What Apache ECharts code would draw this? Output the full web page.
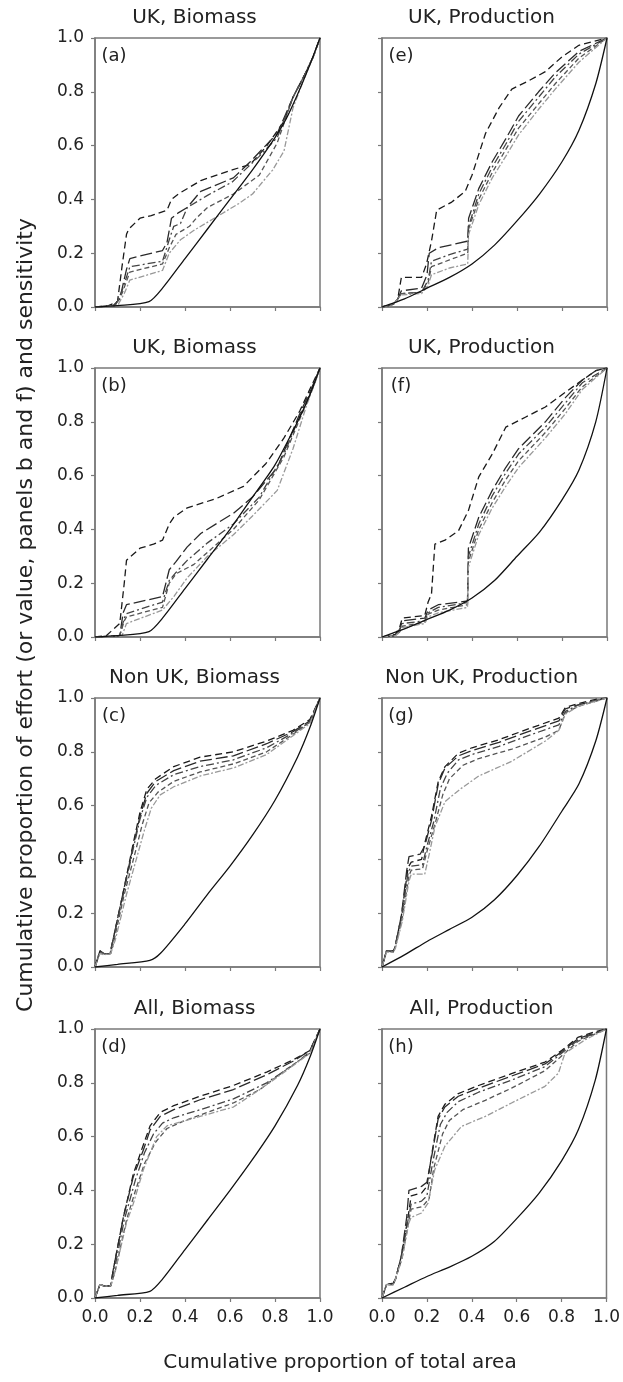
<!DOCTYPE html>
<html>
<head>
<meta charset="utf-8">
<script src="https://cdn.jsdelivr.net/npm/echarts@6/dist/echarts.min.js"></script>
<style>
  html, body { margin: 0; padding: 0; background: #fff; }
  #chart { width: 623px; height: 1382px; }
</style>
</head>
<body>
<div id="chart"></div>
<script>
// panel titles / letters
var panelTitles = ['UK, Biomass', 'UK, Production', 'UK, Biomass', 'UK, Production',
    'Non UK, Biomass', 'Non UK, Production', 'All, Biomass', 'All, Production'];
var panelLetters = ['(a)', '(e)', '(b)', '(f)', '(c)', '(g)', '(d)', '(h)'];
var tickLabels = ['0.0', '0.2', '0.4', '0.6', '0.8', '1.0'];

// (a) UK biomass
var aSolid = [[0,0],[0.1,0.005],[0.24,0.02],[0.3,0.07],[0.4,0.18],[0.5,0.29],[0.6,0.40],[0.7,0.51],[0.8,0.63],[0.85,0.70],[0.9,0.79],[0.95,0.89],[1,1]];
var aDashed = [
    [[0,0],[0.06,0.005],[0.1,0.02],[0.12,0.15],[0.14,0.27],[0.15,0.29],[0.2,0.33],[0.25,0.34],[0.32,0.36],[0.34,0.40],[0.37,0.42],[0.47,0.47],[0.61,0.51],[0.69,0.53],[0.76,0.595],[0.84,0.69],[0.88,0.78],[0.93,0.86],[0.97,0.93],[1,1]],
    [[0,0],[0.08,0.005],[0.11,0.03],[0.14,0.14],[0.155,0.18],[0.3,0.21],[0.32,0.24],[0.34,0.33],[0.37,0.35],[0.41,0.37],[0.47,0.43],[0.615,0.48],[0.69,0.54],[0.81,0.645],[0.88,0.78],[0.93,0.86],[0.97,0.93],[1,1]],
    [[0,0],[0.09,0.005],[0.12,0.06],[0.155,0.15],[0.30,0.17],[0.33,0.25],[0.35,0.30],[0.38,0.31],[0.41,0.37],[0.50,0.415],[0.61,0.465],[0.73,0.56],[0.81,0.63],[0.88,0.78],[0.93,0.86],[0.97,0.93],[1,1]],
    [[0,0],[0.09,0.005],[0.12,0.05],[0.155,0.13],[0.30,0.16],[0.33,0.22],[0.36,0.27],[0.42,0.30],[0.45,0.33],[0.5,0.37],[0.615,0.42],[0.73,0.49],[0.81,0.61],[0.88,0.78],[0.93,0.86],[0.97,0.93],[1,1]],
    [[0,0],[0.1,0.005],[0.13,0.05],[0.155,0.10],[0.30,0.136],[0.33,0.2],[0.38,0.25],[0.44,0.285],[0.54,0.335],[0.64,0.385],[0.70,0.42],[0.79,0.51],[0.84,0.58],[0.88,0.74],[0.93,0.85],[0.97,0.93],[1,1]]
];

// (b) UK biomass, value
var bSolid = [[0,0],[0.1,0.005],[0.24,0.02],[0.3,0.07],[0.4,0.18],[0.5,0.29],[0.6,0.40],[0.7,0.52],[0.8,0.64],[0.9,0.80],[0.95,0.89],[1,1]];
var bDashed = [
    [[0,0],[0.05,0.005],[0.07,0.02],[0.11,0.05],[0.13,0.2],[0.14,0.285],[0.2,0.33],[0.26,0.345],[0.30,0.36],[0.33,0.42],[0.35,0.445],[0.41,0.48],[0.54,0.515],[0.66,0.56],[0.76,0.645],[0.84,0.74],[0.91,0.84],[0.96,0.93],[1,1]],
    [[0,0],[0.11,0.005],[0.125,0.09],[0.14,0.12],[0.30,0.15],[0.33,0.25],[0.36,0.28],[0.41,0.335],[0.47,0.385],[0.615,0.46],[0.70,0.52],[0.81,0.63],[0.91,0.83],[0.96,0.92],[1,1]],
    [[0,0],[0.11,0.005],[0.13,0.07],[0.14,0.087],[0.30,0.13],[0.33,0.21],[0.36,0.24],[0.41,0.285],[0.50,0.35],[0.615,0.42],[0.73,0.52],[0.84,0.68],[0.92,0.84],[0.97,0.93],[1,1]],
    [[0,0],[0.11,0.005],[0.13,0.06],[0.14,0.075],[0.30,0.11],[0.33,0.2],[0.36,0.235],[0.44,0.27],[0.5,0.315],[0.615,0.40],[0.73,0.51],[0.84,0.67],[0.92,0.83],[0.97,0.93],[1,1]],
    [[0,0],[0.12,0.005],[0.14,0.05],[0.30,0.10],[0.35,0.15],[0.41,0.22],[0.5,0.30],[0.615,0.38],[0.70,0.45],[0.81,0.545],[0.88,0.70],[0.94,0.86],[0.98,0.95],[1,1]]
];

// (c) non UK biomass
var cSolid = [[0,0],[0.1,0.01],[0.244,0.025],[0.29,0.05],[0.4,0.16],[0.5,0.27],[0.6,0.375],[0.7,0.49],[0.8,0.62],[0.9,0.78],[0.955,0.89],[1,1]];
var cDashed = [
    [[0,0],[0.022,0.06],[0.04,0.05],[0.067,0.05],[0.08,0.1],[0.126,0.28],[0.17,0.46],[0.2,0.575],[0.23,0.66],[0.27,0.70],[0.35,0.745],[0.467,0.78],[0.615,0.80],[0.763,0.84],[0.88,0.88],[0.955,0.92],[1,1]],
    [[0,0],[0.022,0.06],[0.04,0.05],[0.067,0.05],[0.08,0.1],[0.126,0.28],[0.17,0.45],[0.2,0.56],[0.23,0.645],[0.27,0.69],[0.35,0.73],[0.467,0.765],[0.615,0.785],[0.763,0.83],[0.88,0.875],[0.955,0.915],[1,1]],
    [[0,0],[0.022,0.055],[0.04,0.05],[0.067,0.05],[0.08,0.1],[0.126,0.27],[0.17,0.44],[0.2,0.55],[0.23,0.63],[0.27,0.675],[0.35,0.715],[0.467,0.745],[0.615,0.77],[0.763,0.815],[0.88,0.87],[0.955,0.91],[1,1]],
    [[0,0],[0.022,0.055],[0.04,0.05],[0.07,0.05],[0.085,0.1],[0.13,0.27],[0.18,0.43],[0.21,0.53],[0.24,0.61],[0.28,0.65],[0.35,0.69],[0.467,0.725],[0.615,0.755],[0.763,0.80],[0.88,0.865],[0.955,0.91],[1,1]],
    [[0,0],[0.022,0.05],[0.04,0.045],[0.07,0.05],[0.09,0.1],[0.14,0.27],[0.19,0.42],[0.22,0.51],[0.25,0.59],[0.29,0.64],[0.35,0.67],[0.467,0.71],[0.615,0.74],[0.763,0.79],[0.88,0.86],[0.955,0.905],[1,1]]
];

// (d) all biomass
var dSolid = [[0,0],[0.1,0.01],[0.244,0.025],[0.3,0.07],[0.4,0.18],[0.5,0.29],[0.6,0.40],[0.7,0.515],[0.8,0.64],[0.9,0.79],[0.955,0.895],[1,1]];
var dDashed = [
    [[0,0],[0.022,0.05],[0.04,0.045],[0.07,0.045],[0.08,0.1],[0.126,0.30],[0.17,0.46],[0.215,0.57],[0.245,0.64],[0.29,0.69],[0.35,0.715],[0.467,0.75],[0.615,0.79],[0.763,0.84],[0.88,0.885],[0.955,0.92],[1,1]],
    [[0,0],[0.022,0.05],[0.04,0.045],[0.07,0.045],[0.08,0.1],[0.126,0.30],[0.17,0.45],[0.215,0.55],[0.245,0.625],[0.29,0.675],[0.35,0.70],[0.467,0.737],[0.615,0.775],[0.763,0.83],[0.88,0.88],[0.955,0.92],[1,1]],
    [[0,0],[0.022,0.05],[0.04,0.045],[0.07,0.045],[0.085,0.1],[0.13,0.29],[0.18,0.44],[0.22,0.54],[0.26,0.61],[0.3,0.65],[0.35,0.67],[0.467,0.70],[0.615,0.74],[0.763,0.80],[0.88,0.865],[0.955,0.915],[1,1]],
    [[0,0],[0.022,0.05],[0.04,0.045],[0.07,0.045],[0.09,0.1],[0.14,0.29],[0.18,0.40],[0.22,0.50],[0.27,0.58],[0.32,0.63],[0.4,0.66],[0.5,0.69],[0.615,0.725],[0.733,0.775],[0.85,0.85],[0.955,0.91],[1,1]],
    [[0,0],[0.022,0.05],[0.04,0.045],[0.07,0.045],[0.09,0.1],[0.14,0.28],[0.17,0.35],[0.215,0.477],[0.274,0.60],[0.32,0.64],[0.467,0.675],[0.615,0.71],[0.733,0.775],[0.85,0.845],[0.955,0.91],[1,1]]
];

// (e) UK production
var eSolid = [[0,0],[0.1,0.03],[0.2,0.07],[0.3,0.11],[0.4,0.16],[0.5,0.23],[0.6,0.32],[0.7,0.42],[0.8,0.54],[0.875,0.656],[0.95,0.83],[1,1]];
var eDashed = [
    [[0,0],[0.05,0.01],[0.07,0.03],[0.086,0.11],[0.176,0.11],[0.198,0.16],[0.22,0.245],[0.243,0.36],[0.31,0.39],[0.37,0.43],[0.4,0.49],[0.46,0.645],[0.52,0.74],[0.577,0.81],[0.65,0.84],[0.726,0.875],[0.8,0.93],[0.875,0.973],[1,1]],
    [[0,0],[0.05,0.01],[0.07,0.03],[0.086,0.06],[0.176,0.07],[0.2,0.12],[0.21,0.2],[0.25,0.22],[0.381,0.245],[0.385,0.33],[0.43,0.44],[0.49,0.54],[0.55,0.625],[0.607,0.71],[0.696,0.80],[0.77,0.87],[0.875,0.95],[1,1]],
    [[0,0],[0.05,0.01],[0.07,0.03],[0.086,0.05],[0.176,0.055],[0.205,0.1],[0.22,0.17],[0.3,0.195],[0.381,0.215],[0.385,0.30],[0.43,0.42],[0.49,0.52],[0.55,0.605],[0.607,0.69],[0.696,0.78],[0.77,0.855],[0.875,0.94],[1,1]],
    [[0,0],[0.05,0.01],[0.07,0.03],[0.086,0.05],[0.176,0.055],[0.205,0.09],[0.22,0.15],[0.3,0.175],[0.381,0.2],[0.385,0.29],[0.43,0.40],[0.49,0.50],[0.55,0.585],[0.607,0.665],[0.696,0.755],[0.77,0.83],[0.875,0.925],[1,1]],
    [[0,0],[0.05,0.01],[0.07,0.03],[0.086,0.045],[0.176,0.05],[0.205,0.08],[0.22,0.12],[0.3,0.145],[0.381,0.16],[0.385,0.27],[0.43,0.38],[0.49,0.48],[0.55,0.56],[0.607,0.64],[0.696,0.735],[0.77,0.81],[0.875,0.91],[1,1]]
];

// (f) UK production, value
var fSolid = [[0,0],[0.1,0.03],[0.2,0.065],[0.3,0.10],[0.4,0.145],[0.5,0.21],[0.6,0.30],[0.7,0.39],[0.8,0.51],[0.875,0.62],[0.95,0.80],[1,1]];
var fDashed = [
    [[0,0],[0.06,0.01],[0.08,0.04],[0.09,0.07],[0.19,0.08],[0.205,0.13],[0.22,0.16],[0.235,0.345],[0.28,0.36],[0.34,0.395],[0.384,0.47],[0.43,0.595],[0.49,0.68],[0.55,0.78],[0.637,0.817],[0.726,0.855],[0.815,0.91],[0.89,0.955],[0.95,0.99],[1,1]],
    [[0,0],[0.06,0.005],[0.08,0.03],[0.09,0.06],[0.19,0.07],[0.205,0.1],[0.25,0.12],[0.38,0.134],[0.384,0.33],[0.43,0.445],[0.49,0.545],[0.55,0.63],[0.607,0.70],[0.726,0.80],[0.815,0.89],[0.89,0.955],[0.95,0.99],[1,1]],
    [[0,0],[0.06,0.005],[0.08,0.03],[0.09,0.05],[0.19,0.06],[0.205,0.09],[0.25,0.11],[0.38,0.128],[0.384,0.3],[0.43,0.42],[0.49,0.525],[0.55,0.61],[0.607,0.68],[0.726,0.78],[0.815,0.87],[0.89,0.945],[1,1]],
    [[0,0],[0.06,0.005],[0.08,0.02],[0.09,0.04],[0.19,0.055],[0.205,0.085],[0.25,0.1],[0.38,0.12],[0.384,0.28],[0.43,0.40],[0.49,0.50],[0.55,0.585],[0.607,0.655],[0.726,0.76],[0.815,0.85],[0.89,0.93],[1,1]],
    [[0,0],[0.06,0.005],[0.08,0.02],[0.09,0.035],[0.19,0.05],[0.205,0.075],[0.25,0.09],[0.38,0.11],[0.384,0.26],[0.43,0.38],[0.49,0.48],[0.55,0.56],[0.607,0.63],[0.726,0.74],[0.815,0.83],[0.89,0.92],[1,1]]
];

// (g) non UK production
var gSolid = [[0,0],[0.1,0.045],[0.2,0.095],[0.3,0.14],[0.4,0.185],[0.5,0.25],[0.6,0.34],[0.7,0.45],[0.8,0.58],[0.875,0.68],[0.95,0.84],[1,1]];
var gDashed = [
    [[0,0],[0.02,0.06],[0.05,0.06],[0.057,0.07],[0.086,0.19],[0.116,0.37],[0.13,0.39],[0.176,0.40],[0.19,0.46],[0.22,0.56],[0.25,0.69],[0.28,0.745],[0.34,0.795],[0.4,0.815],[0.52,0.845],[0.65,0.885],[0.786,0.925],[0.815,0.965],[0.875,0.98],[0.95,0.995],[1,1]],
    [[0,0],[0.02,0.06],[0.05,0.06],[0.057,0.07],[0.086,0.19],[0.11,0.36],[0.12,0.41],[0.17,0.42],[0.19,0.45],[0.22,0.545],[0.25,0.68],[0.28,0.74],[0.34,0.785],[0.4,0.805],[0.52,0.835],[0.65,0.875],[0.786,0.915],[0.815,0.96],[0.875,0.975],[1,1]],
    [[0,0],[0.02,0.06],[0.05,0.055],[0.057,0.07],[0.086,0.18],[0.116,0.35],[0.13,0.375],[0.18,0.38],[0.2,0.45],[0.23,0.54],[0.26,0.665],[0.29,0.72],[0.34,0.77],[0.4,0.79],[0.52,0.82],[0.65,0.86],[0.786,0.9],[0.815,0.95],[0.875,0.975],[1,1]],
    [[0,0],[0.02,0.06],[0.05,0.055],[0.057,0.07],[0.09,0.18],[0.12,0.34],[0.13,0.36],[0.18,0.365],[0.2,0.43],[0.235,0.53],[0.27,0.64],[0.3,0.70],[0.36,0.75],[0.43,0.775],[0.577,0.81],[0.726,0.855],[0.786,0.88],[0.815,0.945],[0.875,0.97],[1,1]],
    [[0,0],[0.02,0.055],[0.05,0.055],[0.06,0.07],[0.09,0.17],[0.12,0.32],[0.13,0.345],[0.19,0.345],[0.21,0.42],[0.235,0.52],[0.28,0.615],[0.354,0.665],[0.43,0.71],[0.577,0.765],[0.726,0.84],[0.786,0.88],[0.815,0.94],[0.875,0.97],[1,1]]
];

// (h) all production
var hSolid = [[0,0],[0.1,0.04],[0.2,0.08],[0.3,0.115],[0.4,0.155],[0.5,0.21],[0.6,0.295],[0.7,0.39],[0.8,0.51],[0.875,0.626],[0.95,0.81],[1,1]];
var hDashed = [
    [[0,0],[0.02,0.05],[0.05,0.055],[0.06,0.07],[0.086,0.155],[0.116,0.30],[0.13,0.38],[0.176,0.39],[0.2,0.415],[0.22,0.527],[0.25,0.675],[0.28,0.72],[0.34,0.76],[0.43,0.79],[0.577,0.834],[0.726,0.877],[0.8,0.92],[0.875,0.97],[0.95,0.99],[1,1]],
    [[0,0],[0.02,0.05],[0.05,0.055],[0.06,0.07],[0.086,0.155],[0.11,0.30],[0.12,0.40],[0.176,0.415],[0.2,0.43],[0.22,0.52],[0.25,0.665],[0.28,0.71],[0.34,0.75],[0.43,0.78],[0.577,0.825],[0.726,0.87],[0.8,0.915],[0.875,0.965],[1,1]],
    [[0,0],[0.02,0.05],[0.05,0.05],[0.06,0.07],[0.086,0.15],[0.116,0.29],[0.13,0.35],[0.176,0.36],[0.2,0.38],[0.225,0.50],[0.26,0.645],[0.29,0.69],[0.34,0.73],[0.43,0.765],[0.577,0.81],[0.726,0.86],[0.8,0.91],[0.875,0.96],[1,1]],
    [[0,0],[0.02,0.05],[0.05,0.05],[0.06,0.07],[0.09,0.15],[0.12,0.29],[0.13,0.33],[0.18,0.34],[0.21,0.37],[0.23,0.48],[0.27,0.61],[0.3,0.66],[0.36,0.70],[0.46,0.735],[0.577,0.78],[0.726,0.845],[0.8,0.90],[0.875,0.955],[1,1]],
    [[0,0],[0.02,0.05],[0.05,0.05],[0.06,0.07],[0.09,0.15],[0.12,0.28],[0.13,0.30],[0.176,0.316],[0.205,0.353],[0.235,0.477],[0.28,0.564],[0.354,0.638],[0.46,0.675],[0.577,0.725],[0.726,0.787],[0.786,0.836],[0.815,0.91],[0.905,0.96],[1,1]]
];

// order follows the grid order: row by row, left then right
var solids = [aSolid, eSolid, bSolid, fSolid, cSolid, gSolid, dSolid, hSolid];
var dashedSets = [aDashed, eDashed, bDashed, fDashed, cDashed, gDashed, dDashed, hDashed];

// line looks for the 5 sensitivity runs
var dashStyles = [
    { color: '#1a1a1a', type: [7, 4] },
    { color: '#2a2a2a', type: [12, 4] },
    { color: '#444', type: [8, 3, 2, 3] },
    { color: '#555', type: [5, 3] },
    { color: '#999', type: [6, 2, 2, 2] }
];

var FONT = 'DejaVu Sans';
var colLeft = [95, 382];
var colWidth = 225;
var rowTops = [38, 368, 698, 1029];   // NB: never name this "top" (window.top)
var rowHeight = 269;
var axisGray = '#7a7a7a';

function makeAxis(i, showLabel) {
    return {
        type: 'value', gridIndex: i, min: 0, max: 1, interval: 0.2,
        axisLine: { show: true, onZero: false, lineStyle: { color: axisGray, width: 1.5 } },
        axisTick: { show: true, length: 4, lineStyle: { color: axisGray, width: 1.2 } },
        splitLine: { show: false },
        axisLabel: {
            show: showLabel, margin: 11, fontSize: 17, fontFamily: FONT, color: '#222',
            formatter: function (v) { return tickLabels[Math.round(v / 0.2)]; }
        }
    };
}

function buildOption() {
    var grids = [], xAxes = [], yAxes = [], series = [], graphics = [];
    for (var i = 0; i < 8; i++) {
        var row = Math.floor(i / 2), col = i % 2;
        var gx = colLeft[col], gy = rowTops[row];
        grids.push({
            left: gx, top: gy, width: colWidth, height: rowHeight,
            show: true, borderColor: axisGray, borderWidth: 1.5
        });
        xAxes.push(makeAxis(i, row === 3));
        yAxes.push(makeAxis(i, col === 0));

        // dashed sensitivity runs
        for (var k = 0; k < dashedSets[i].length; k++) {
            series.push({
                type: 'line', xAxisIndex: i, yAxisIndex: i, data: dashedSets[i][k], showSymbol: false,
                lineStyle: { color: dashStyles[k].color, type: dashStyles[k].type.slice(), width: 1.3 }
            });
        }
        // solid reference line
        series.push({
            type: 'line', xAxisIndex: i, yAxisIndex: i, data: solids[i], showSymbol: false, smooth: 0.25,
            lineStyle: { color: '#111', width: 1.3 }
        });

        graphics.push({
            type: 'text', x: gx + colWidth / 2 - 13, y: gy - 20,
            style: { text: panelTitles[i], font: '20px "' + FONT + '"', fill: '#222', textAlign: 'center', textVerticalAlign: 'middle' }
        });
        graphics.push({
            type: 'text', x: gx + 19, y: gy + 18,
            style: { text: panelLetters[i], font: '18px "' + FONT + '"', fill: '#222', textAlign: 'center', textVerticalAlign: 'middle' }
        });
    }

    // shared axis titles
    graphics.push({
        type: 'text', x: 340, y: 1363,
        style: { text: 'Cumulative proportion of total area', font: '20px "' + FONT + '"', fill: '#222', textAlign: 'center', textVerticalAlign: 'middle' }
    });
    graphics.push({
        type: 'text', x: 26, y: 615, rotation: Math.PI / 2,
        style: { text: 'Cumulative proportion of effort (or value, panels b and f) and sensitivity', font: '22px "' + FONT + '"', fill: '#222', textAlign: 'center', textVerticalAlign: 'middle' }
    });

    return {
        backgroundColor: '#fff',
        animation: false,
        grid: grids,
        xAxis: xAxes,
        yAxis: yAxes,
        series: series,
        graphic: graphics
    };
}

var chart = echarts.init(document.getElementById('chart'));
chart.setOption(buildOption());
</script>
</body>
</html>
